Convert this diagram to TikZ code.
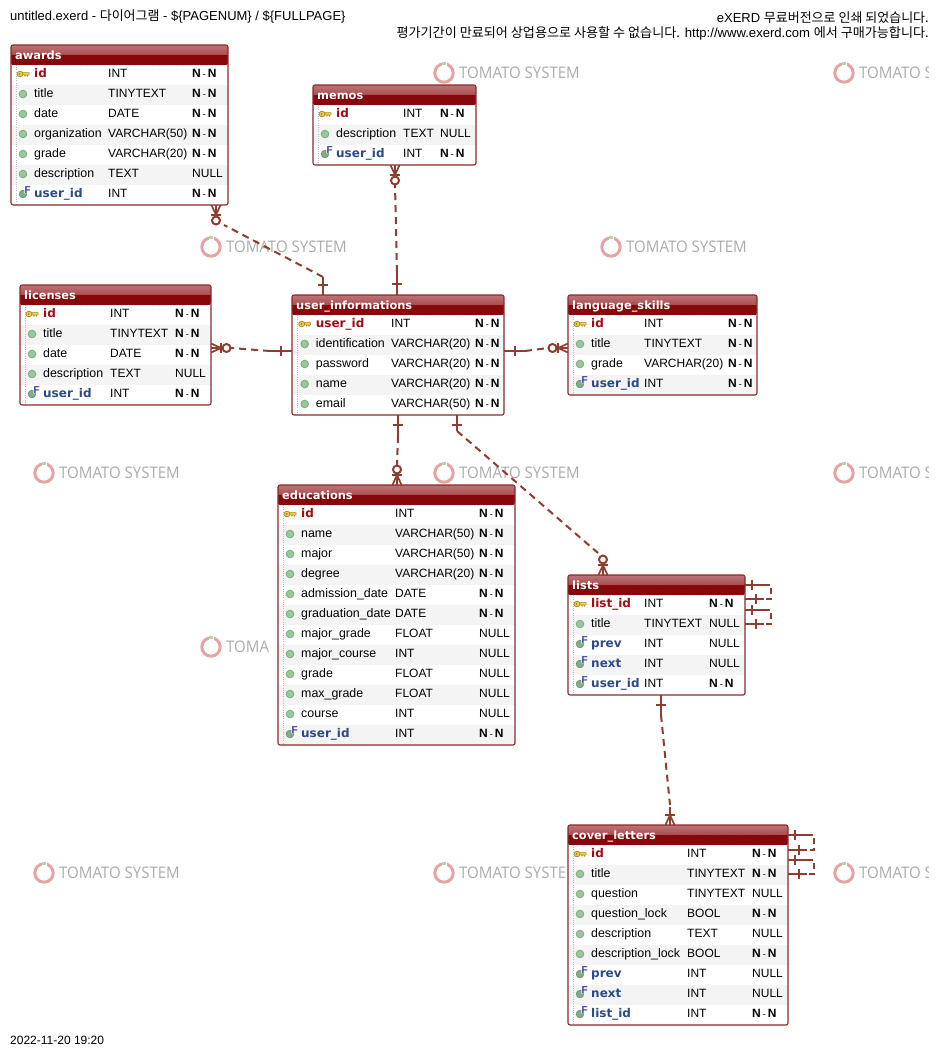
\documentclass[tikz,border=0pt]{standalone}
\usepackage{fontspec}
\setmainfont{Liberation Sans}
\newfontfamily\krfont{Noto Sans CJK KR}
\newfontfamily\wmfont[FakeStretch=0.94]{Open Sans}
\newfontfamily\boldfam{DejaVu Sans}
\usetikzlibrary{patterns,calc}
\definecolor{frame}{HTML}{8A2A2A}
\definecolor{rel}{HTML}{8F3D2E}
\definecolor{headlo}{HTML}{8E0A0E}
\definecolor{headstripe}{HTML}{7A0508}
\definecolor{headhi}{HTML}{B05C5E}
\definecolor{pkred}{HTML}{A50A14}
\definecolor{fkblue}{HTML}{2A4A8A}
\definecolor{rowgray}{HTML}{F4F4F4}
\definecolor{wmgray}{HTML}{ABABAB}
\definecolor{wmring}{HTML}{E6A3A3}
\definecolor{wmgreen}{HTML}{A8DCA8}
\definecolor{dotgray}{HTML}{BBBBBB}
\definecolor{keyedge}{HTML}{A8841C}
\definecolor{keyfill}{HTML}{EFCF52}
\definecolor{dotfill}{HTML}{9CC79C}
\definecolor{dotedge}{HTML}{7FAF88}
\definecolor{fkF}{HTML}{3A3AA8}
\tikzset{
  cell/.style={inner sep=0pt,anchor=base west,font=\fontsize{12}{12}\selectfont,text=black},
  namecell/.style={cell,font=\fontsize{12.4}{12.4}\selectfont},
  pkname/.style={cell,font=\boldfam\bfseries\fontsize{12}{12}\selectfont,text=pkred},
  fkname/.style={cell,font=\boldfam\bfseries\fontsize{12}{12}\selectfont,text=fkblue},
  titletext/.style={inner sep=0pt,anchor=base west,text=white,font=\boldfam\bfseries\fontsize{11.4}{11.4}\selectfont},
  tablebox/.style={draw=frame,line width=1.1pt,rounded corners=2pt,inner sep=0pt,outer sep=0pt,anchor=north west},
  relline/.style={draw=rel,line width=2pt},
  reldash/.style={relline,dash pattern=on 7pt off 5pt},
  wmtext/.style={inner sep=0pt,anchor=west,text=wmgray,font=\wmfont\fontsize{16}{16}\selectfont},
  captext/.style={inner sep=0pt,font=\fontsize{13}{13}\selectfont,text=black},
  crowfoot/.pic={
    \draw[relline,line width=1.7pt] (0,-4.5) -- (10,0) -- (0,4.5) (0,0) -- (10,0);
    \draw[relline] (10,-5) -- (10,5);
  },
  crowring/.pic={
    \draw[relline,line width=1.7pt] (0,-4.5) -- (10,0) -- (0,4.5) (0,0) -- (10,0);
    \draw[relline] (10,-5) -- (10,5);
    \draw[relline] (15.5,0) circle (4pt);
  },
}
% cross bars on a connector: coordinate, offset along the connector
\newcommand{\crossonv}[2]{\draw[relline] ([xshift=-5pt,yshift=#2pt]#1) -- ([xshift=5pt,yshift=#2pt]#1);}
\newcommand{\crossonh}[2]{\draw[relline] ([xshift=#2pt,yshift=-5pt]#1) -- ([xshift=#2pt,yshift=5pt]#1);}
\newcommand{\NN}{\textbf{N}\,{\fontsize{9}{9}\selectfont -}\,\textbf{N}}
\newcommand{\pkicon}[1]{%
  \begin{scope}[shift={(#1)}]
   \fill[keyfill,draw=keyedge,line width=.5pt] (-1,-1.5) -- (6,-1.5) -- (6,.8) -- (5,.8) -- (4.4,2.4) -- (3.6,.8) -- (2.6,.8) -- (2,2.4) -- (1.4,.8) -- (-1,.8) -- cycle;
   \fill[keyfill,draw=keyedge,line width=.7pt] (-3,0) ellipse (3pt and 2.8pt);
   \fill[keyedge] (-3.4,0) circle (1pt);
  \end{scope}}
\newcommand{\dicon}[1]{%
  \fill[dotfill,draw=dotedge,line width=.9pt] (#1) circle (3.8pt);}
\newcommand{\ficon}[1]{%
  \begin{scope}[shift={(#1)}]
   \begin{scope}
    \clip (-6,-6) -- (1.4,-6) -- (1.4,-.6) -- (6,-.6) -- (6,6) -- (-6,6) -- cycle;
    \fill[dotedge,draw=dotedge!85!black,line width=.7pt] (0,0) circle (3.8pt);
   \end{scope}
   \node[inner sep=0pt,text=fkF,font=\bfseries\fontsize{10}{10}\selectfont] at (4.6,-3.8) {F};
  \end{scope}}
% #1 x, #2 y, #3 width, #4 type offset, #5 null offset, #6 rows
\newcommand{\erdrows}[6]{%
  \begin{scope}[shift={(#1,#2)}]
    \foreach \k/\n/\t/\u [count=\i from 0] in {#6} {
      \pgfmathsetmacro\ry{20+20*\i}
      \pgfmathtruncatemacro\oddrow{mod(\i,2)}
      \ifnum\oddrow=1
        \fill[rowgray] (0,\ry) rectangle (#3,\ry+20);
      \fi
      \ifnum\k=0
        \pkicon{12,\ry+9}
        \node[pkname] at (23,\ry+12.4) {\n};
      \else\ifnum\k=1
        \dicon{12,\ry+9}
        \node[namecell] at (23,\ry+12.4) {\n};
      \else
        \ficon{12,\ry+9}
        \node[fkname] at (23,\ry+12.4) {\n};
      \fi\fi
      \node[cell] at (#4,\ry+12.4) {\t};
      \node[cell] at (#5,\ry+12.4) {\u};
    }
  \end{scope}}
% #1 node name, #2 x, #3 y, #4 width, #5 rows, #6 title
\newcommand{\erdframe}[6]{%
  \begin{scope}[shift={(#2,#3)}]
    \begin{scope}
      \clip[rounded corners=2pt] (0,0) rectangle (#4,20);
      \fill[headlo] (0,0) rectangle (#4,20);
      \fill[pattern=north east lines,pattern color=headstripe] (0,9) rectangle (#4,20);
      \shade[top color=headhi!85!white,bottom color=headhi!85!headlo] (0,0) rectangle (#4,9);
    \end{scope}
    \draw[dotgray,line width=.8pt,dash pattern=on 1pt off 1.2pt] (5,20) -- (5,#5*20+20);
    \node[tablebox,minimum width=#4 pt,minimum height=#5*20pt+20pt] (#1) at (0,0) {};
    \node[titletext] at (4,14.5) {#6};
  \end{scope}}
% #1 x, #2 y, #3 node name, #4 text as visible
\newcommand{\wm}[4]{%
  \draw[wmring,line width=3pt] (#1,#2) circle (9.2pt);
  \fill[white] (#1-2.5,#2-12) rectangle (#1+2.5,#2-6.5);
  \fill[wmgreen] (#1-1.6,#2-11) rectangle (#1+1.6,#2-7.8);
  \node[wmtext] (#3) at (#1+15,#2) {#4};}
\begin{document}
\begin{tikzpicture}[x=1pt,y=-1pt]
\useasboundingbox (0,0) rectangle (940,1058);
\fill[white] (0,0) rectangle (940,1058);
% watermarks
\wm{444}{73}{wma}{TOMATO SYSTEM}\wm{844}{73}{wmb}{TOMATO S}
\wm{211}{247}{wmc}{TOMATO SYSTEM}\wm{611}{247}{wmd}{TOMATO SYSTEM}
\wm{44}{473}{wme}{TOMATO SYSTEM}\wm{444}{473}{wmf}{TOMATO SYSTEM}\wm{844}{473}{wmg}{TOMATO S}
\wm{211}{647}{wmh}{TOMA}
\wm{44}{873}{wmi}{TOMATO SYSTEM}\wm{444}{873}{wmj}{TOMATO SYSTE}\wm{844}{873}{wmk}{TOMATO S}
\fill[white] (929,40) rectangle (940,1058);
% captions
\node[captext,anchor=west] (captitle) at (10,16) {untitled.exerd - {\krfont 다이어그램} - \$\{PAGENUM\} / \$\{FULLPAGE\}};
\node[captext,anchor=east] (capa) at (929,18) {eXERD {\krfont 무료버전으로 인쇄 되었습니다.}};
\node[captext,anchor=east,font=\fontsize{13.1}{13.1}\selectfont] (capb) at (929,33) {{\krfont 평가기간이 만료되어 상업용으로 사용할 수 없습니다.} http://www.exerd.com {\krfont 에서 구매가능합니다.}};
\node[captext,anchor=west,font=\fontsize{12}{12}\selectfont] (capdate) at (10,1040) {2022-11-20 19:20};

\erdrows{11}{45}{217}{97}{181}{%
 0/id/INT/\NN,1/title/TINYTEXT/\NN,1/date/DATE/\NN,1/organization/VARCHAR(50)/\NN,1/grade/VARCHAR(20)/\NN,1/description/TEXT/NULL,2/user\_id/INT/\NN}
\erdframe{awards}{11}{45}{217}{7}{awards}

\erdrows{313}{85}{163}{90}{127}{%
 0/id/INT/\NN,1/description/TEXT/NULL,2/user\_id/INT/\NN}
\erdframe{memos}{313}{85}{163}{3}{memos}

\erdrows{20}{285}{191}{90}{155}{%
 0/id/INT/\NN,1/title/TINYTEXT/\NN,1/date/DATE/\NN,1/description/TEXT/NULL,2/user\_id/INT/\NN}
\erdframe{licenses}{20}{285}{191}{5}{licenses}

\erdrows{292.7}{295}{211.3}{98.3}{182.3}{%
 0/user\_id/INT/\NN,1/identification/VARCHAR(20)/\NN,1/password/VARCHAR(20)/\NN,1/name/VARCHAR(20)/\NN,1/email/VARCHAR(50)/\NN}
\erdframe{users}{292}{295}{212}{5}{user\_informations}

\erdrows{568}{295}{189}{76}{160}{%
 0/id/INT/\NN,1/title/TINYTEXT/\NN,1/grade/VARCHAR(20)/\NN,2/user\_id/INT/\NN}
\erdframe{langs}{568}{295}{189}{4}{language\_skills}

\fill[white] (278,485) rectangle (515,745);
\erdrows{278}{485}{237}{117}{201}{%
 0/id/INT/\NN,1/name/VARCHAR(50)/\NN,1/major/VARCHAR(50)/\NN,1/degree/VARCHAR(20)/\NN,1/admission\_date/DATE/\NN,1/graduation\_date/DATE/\NN,1/major\_grade/FLOAT/NULL,1/major\_course/INT/NULL,1/grade/FLOAT/NULL,1/max\_grade/FLOAT/NULL,1/course/INT/NULL,2/user\_id/INT/\NN}
\erdframe{edus}{278}{485}{237}{12}{educations}

\erdrows{568}{575}{177}{76}{141}{%
 0/list\_id/INT/\NN,1/title/TINYTEXT/NULL,2/prev/INT/NULL,2/next/INT/NULL,2/user\_id/INT/\NN}
\erdframe{lists}{568}{575}{177}{5}{lists}

\fill[white] (568,825) rectangle (788,1025);
\erdrows{568}{825}{220}{119}{184}{%
 0/id/INT/\NN,1/title/TINYTEXT/\NN,1/question/TINYTEXT/NULL,1/question\_lock/BOOL/\NN,1/description/TEXT/NULL,1/description\_lock/BOOL/\NN,2/prev/INT/NULL,2/next/INT/NULL,2/list\_id/INT/\NN}
\erdframe{covers}{568}{825}{220}{9}{cover\_letters}

% ---- connectors, anchored on the table nodes
% awards -- users
\coordinate (ca) at ([xshift=205pt]awards.south west);
\coordinate (cb) at ([xshift=31pt]users.north west);
\pic[rotate=-90] at (ca) {crowring};
\crossonv{cb}{10}
\draw[relline] (cb) -- ++(0,-18) coordinate (cbm);
\draw[reldash] (cbm) -- ($(ca)+(8,20)$);
% memos -- users
\coordinate (cc) at ([xshift=82pt]memos.south west);
\coordinate (cd) at ([xshift=105pt]users.north west);
\pic[rotate=-90] at (cc) {crowring};
\crossonv{cd}{11}
\draw[relline] (cd) -- ++(0,-23) coordinate (cdm);
\draw[reldash] (cdm) -- ($(cc)+(0,20)$);
% licenses -- users
\coordinate (ce) at ([yshift=-63pt]licenses.north east);
\coordinate (cf) at ([yshift=-56pt]users.north west);
\pic at (ce) {crowring};
\crossonh{cf}{-11}
\draw[relline] (cf) -- ++(-22,0) coordinate (cfm);
\draw[reldash] (cfm) -- ($(ce)+(20,0)$);
% users -- language_skills
\coordinate (cg) at ([yshift=-56pt]users.north east);
\coordinate (ch) at ([yshift=-53pt]langs.north west);
\pic[rotate=180] at (ch) {crowring};
\crossonh{cg}{11}
\draw[relline] (cg) -- ++(21,0) coordinate (cgm);
\draw[reldash] (cgm) -- ($(ch)+(-20,0)$);
% users -- educations
\coordinate (ci) at ([xshift=106pt]users.south west);
\coordinate (cj) at ([xshift=119pt]edus.north west);
\pic[rotate=90] at (cj) {crowring};
\crossonv{ci}{-10}
\draw[relline] (ci) -- ++(0,21) coordinate (cim);
\draw[reldash] (cim) -- ($(cj)+(0,-20)$);
% users -- lists
\coordinate (ck) at ([xshift=165pt]users.south west);
\coordinate (cl) at ([xshift=35pt]lists.north west);
\pic[rotate=90] at (cl) {crowring};
\crossonv{ck}{-10}
\draw[relline] (ck) -- ++(0,16) coordinate (ckm);
\draw[reldash] (ckm) -- ($(cl)+(-5,-22)$);
% lists -- cover_letters
\coordinate (cm) at ([xshift=93pt]lists.south west);
\coordinate (cn) at ([xshift=102pt]covers.north west);
\pic[rotate=90] at (cn) {crowfoot};
\crossonv{cm}{-10}
\draw[relline] (cm) -- ++(0,20) coordinate (cmm);
\draw[reldash] (cmm) -- ($(cn)+(0,-20)$);
\draw[relline] (cn) -- ++(0,-18);
% lists self references
\foreach \ya/\yb/\nm in {10/24/p,35/49/q} {
  \coordinate (s\nm a) at ([yshift=-\ya pt]lists.north east);
  \coordinate (s\nm b) at ([yshift=-\yb pt]lists.north east);
  \draw[relline] (s\nm a) -- ++(19,0) coordinate (s\nm c);
  \draw[relline] (s\nm b) -- ++(19,0) coordinate (s\nm d);
  \crossonh{s\nm a}{6.5}
  \crossonh{s\nm b}{11}
  \draw[relline,dash pattern=on 6pt off 4pt] (s\nm c) -- ++(7,0) -- ++(0,\yb-\ya) -- (s\nm d);
}
% cover_letters self references
\foreach \ya/\yb/\nm in {10/25/r,35/49/s} {
  \coordinate (s\nm a) at ([yshift=-\ya pt]covers.north east);
  \coordinate (s\nm b) at ([yshift=-\yb pt]covers.north east);
  \draw[relline] (s\nm a) -- ++(19,0) coordinate (s\nm c);
  \draw[relline] (s\nm b) -- ++(19,0) coordinate (s\nm d);
  \crossonh{s\nm a}{6.5}
  \crossonh{s\nm b}{11}
  \draw[relline,dash pattern=on 6pt off 4pt] (s\nm c) -- ++(7,0) -- ++(0,\yb-\ya) -- (s\nm d);
}
\end{tikzpicture}
\end{document}
